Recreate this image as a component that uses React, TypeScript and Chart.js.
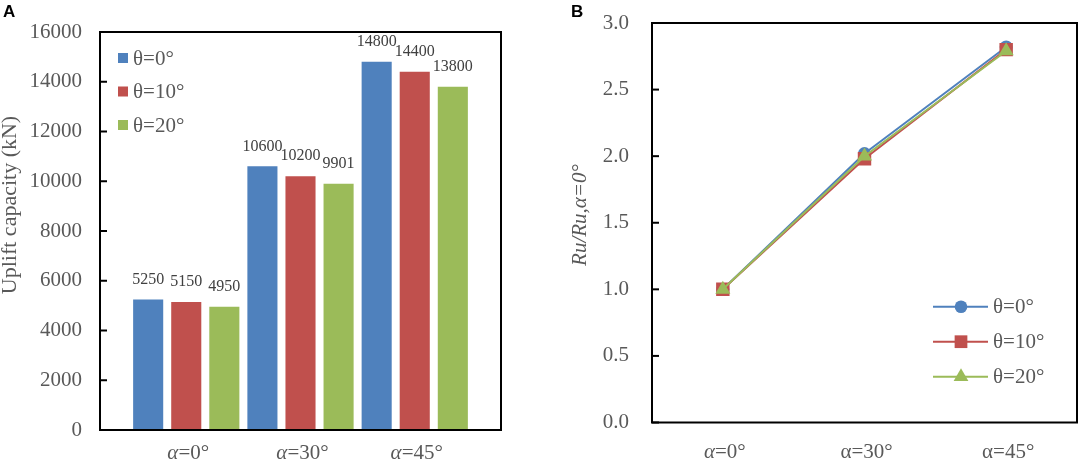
import { useEffect, useRef } from "react";
import { Chart, registerables } from "chart.js";

Chart.register(...registerables);

// data
const categories = ["α=0°", "α=30°", "α=45°"];
const seriesNames = ["θ=0°", "θ=10°", "θ=20°"];
const capacityTheta0 = [5250, 10600, 14800];
const capacityTheta10 = [5150, 10200, 14400];
const capacityTheta20 = [4950, 9901, 13800];
const ratioTheta0 = [1.0, 2.02, 2.82];
const ratioTheta10 = [1.0, 1.98, 2.8];
const ratioTheta20 = [1.0, 2.0, 2.79];
const capacityTicks = [0, 2000, 4000, 6000, 8000, 10000, 12000, 14000, 16000];
const ratioTicks = [0, 0.5, 1.0, 1.5, 2.0, 2.5, 3.0];

const colors = ["#4F81BD", "#C0504D", "#9BBB59"];
const textColor = "#595959";
const serif = '"Liberation Serif", "Times New Roman", serif';
const sans = '"Liberation Sans", Arial, sans-serif';

// frame round the plot area + short inward ticks on the value axis
const framePlugin = {
  id: "frame",
  afterDraw(chart: any) {
    const { ctx, chartArea: a } = chart;
    const y = chart.scales.y;
    ctx.save();
    ctx.strokeStyle = "#000";
    ctx.lineWidth = 2;
    ctx.strokeRect(a.left, a.top, a.right - a.left, a.bottom - a.top);
    y.ticks.forEach((t: any) => {
      const py = y.getPixelForValue(t.value);
      ctx.beginPath();
      ctx.moveTo(a.left, py);
      ctx.lineTo(a.left + 7, py);
      ctx.stroke();
    });
    ctx.restore();
  },
};

function drawCategoryLabels(chart: any, italicAlpha: boolean[], baseline: number) {
  const { ctx } = chart;
  const x = chart.scales.x;
  ctx.save();
  ctx.fillStyle = textColor;
  ctx.textBaseline = "alphabetic";
  ctx.textAlign = "left";
  categories.forEach((label, i) => {
    const cx = x.getPixelForValue(i);
    const head = label.slice(0, 1);
    const rest = label.slice(1);
    const headFont = `${italicAlpha[i] ? "italic " : ""}21px ${serif}`;
    const restFont = `21px ${serif}`;
    ctx.font = headFont;
    const w1 = ctx.measureText(head).width;
    ctx.font = restFont;
    const w2 = ctx.measureText(rest).width;
    const sx = cx - (w1 + w2) / 2 + 2;
    ctx.font = headFont;
    ctx.fillText(head, sx, baseline);
    ctx.font = restFont;
    ctx.fillText(rest, sx + w1, baseline);
  });
  ctx.restore();
}

function drawVerticalTitle(ctx: any, text: string, font: string, x: number, y: number) {
  ctx.save();
  ctx.translate(x, y);
  ctx.rotate(-Math.PI / 2);
  ctx.font = font;
  ctx.fillStyle = textColor;
  ctx.textAlign = "center";
  ctx.textBaseline = "alphabetic";
  ctx.fillText(text, 0, 0);
  ctx.restore();
}

function drawPanelLetter(ctx: any, letter: string, x: number) {
  ctx.save();
  ctx.font = `bold 17px ${sans}`;
  ctx.fillStyle = "#000";
  ctx.textAlign = "left";
  ctx.textBaseline = "alphabetic";
  ctx.fillText(letter, x, 17);
  ctx.restore();
}

function drawMarker(ctx: any, style: string, r: number, x: number, y: number) {
  ctx.beginPath();
  if (style === "circle") {
    ctx.arc(x, y, r, 0, Math.PI * 2);
  } else if (style === "rect") {
    const s = Math.SQRT1_2 * r;
    ctx.rect(x - s, y - s, 2 * s, 2 * s);
  } else {
    ctx.moveTo(x, y - r);
    ctx.lineTo(x + Math.sin(Math.PI * 2 / 3) * r, y + r / 2);
    ctx.lineTo(x - Math.sin(Math.PI * 2 / 3) * r, y + r / 2);
    ctx.closePath();
  }
  ctx.fill();
}

// keep the tick padding from pushing the plot area down
const noVerticalPad = (s: any, width: number) => {
  s.width = width;
  s.paddingTop = 0;
  s.paddingBottom = 0;
};

function BarPanel() {
  const canvasRef = useRef<HTMLCanvasElement>(null);

  useEffect(() => {
    const series = [capacityTheta0, capacityTheta10, capacityTheta20];

    const extras = {
      id: "barExtras",
      afterDatasetsDraw(chart: any) {
        const { ctx } = chart;
        ctx.save();
        ctx.font = `16px ${serif}`;
        ctx.fillStyle = "#404040";
        ctx.textAlign = "center";
        ctx.textBaseline = "middle";
        chart.data.datasets.forEach((ds: any, di: number) => {
          const meta = chart.getDatasetMeta(di);
          meta.data.forEach((bar: any, i: number) => {
            ctx.fillText(String(ds.data[i].y), bar.x, bar.y - 20);
          });
        });
        ctx.restore();
      },
      afterDraw(chart: any) {
        const { ctx } = chart;
        // legend inside the plot
        ctx.save();
        ctx.font = `21px ${serif}`;
        ctx.textAlign = "left";
        ctx.textBaseline = "middle";
        seriesNames.forEach((name, i) => {
          const cy = 58 + i * 33.5;
          ctx.fillStyle = colors[i];
          ctx.fillRect(118, cy - 5, 10, 10);
          ctx.fillStyle = textColor;
          ctx.fillText(name, 133, cy + 1);
        });
        ctx.restore();
        drawCategoryLabels(chart, [true, true, true], 459);
        drawVerticalTitle(ctx, "Uplift capacity (kN)", `22px ${serif}`, 16, 205);
        drawPanelLetter(ctx, "A", 3);
      },
    };

    const chart = new Chart(canvasRef.current!, {
      type: "bar",
      data: {
        datasets: series.map((values, si) => ({
          label: seriesNames[si],
          data: values.map((v, i) => ({ x: i, y: v })),
          backgroundColor: colors[si],
          borderWidth: 0,
          categoryPercentage: 1.0,
          barPercentage: 0.79,
        })),
      },
      options: {
        responsive: false,
        animation: false,
        events: [],
        layout: { padding: { top: 32, right: 39, left: 0, bottom: 0 } },
        plugins: { legend: { display: false }, tooltip: { enabled: false } },
        scales: {
          x: {
            type: "linear",
            min: -0.755,
            max: 2.755,
            offset: false,
            afterBuildTicks: (s: any) => {
              s.ticks = categories.map((_, i) => ({ value: i }));
            },
            afterFit: (s: any) => {
              s.height = 30;
              s.paddingLeft = 0;
              s.paddingRight = 0;
            },
            ticks: { display: false },
            grid: { display: false, drawTicks: false },
            border: { display: false },
          },
          y: {
            min: 0,
            max: 16000,
            afterBuildTicks: (s: any) => {
              s.ticks = capacityTicks.map((value) => ({ value }));
            },
            afterFit: (s: any) => noVerticalPad(s, 100),
            ticks: {
              padding: 18,
              color: textColor,
              font: { family: serif, size: 21 },
              callback: (v: any) => String(v),
            },
            grid: { display: false, drawTicks: false },
            border: { display: false },
          },
        },
      },
      plugins: [framePlugin, extras],
    });

    return () => chart.destroy();
  }, []);

  return <canvas ref={canvasRef} width={540} height={460} style={{ position: "absolute", left: 0, top: 0 }} />;
}

function LinePanel() {
  const canvasRef = useRef<HTMLCanvasElement>(null);

  useEffect(() => {
    const series = [ratioTheta0, ratioTheta10, ratioTheta20];
    const pointStyles = ["circle", "rect", "triangle"];
    const pointRadii = [6.5, 9.5, 8.7];
    const orders = [2, 1, 0];

    const extras = {
      id: "lineExtras",
      afterDraw(chart: any) {
        const { ctx } = chart;
        ctx.save();
        ctx.font = `21px ${serif}`;
        ctx.textAlign = "left";
        ctx.textBaseline = "middle";
        seriesNames.forEach((name, i) => {
          const cy = 306.7 + i * 35;
          ctx.strokeStyle = colors[i];
          ctx.fillStyle = colors[i];
          ctx.lineWidth = 2;
          ctx.beginPath();
          ctx.moveTo(393, cy);
          ctx.lineTo(448, cy);
          ctx.stroke();
          drawMarker(ctx, pointStyles[i], i === 1 ? 9 : i === 2 ? 8.5 : 6.3, 421, cy);
          ctx.fillStyle = textColor;
          ctx.fillText(name, 453, cy + 1);
        });
        ctx.restore();
        drawCategoryLabels(chart, [true, false, false], 458);
        drawVerticalTitle(ctx, "Ru/Ru,α=0°", `italic 21px ${serif}`, 46, 215);
        drawPanelLetter(ctx, "B", 31);
      },
    };

    const chart = new Chart(canvasRef.current!, {
      type: "line",
      data: {
        labels: categories,
        datasets: series.map((values, si) => ({
          label: seriesNames[si],
          data: values,
          borderColor: colors[si],
          backgroundColor: colors[si],
          borderWidth: 2,
          pointStyle: pointStyles[si],
          pointRadius: pointRadii[si],
          pointBorderWidth: 0,
          pointBackgroundColor: colors[si],
          order: orders[si],
          tension: 0,
        })),
      },
      options: {
        responsive: false,
        animation: false,
        events: [],
        layout: { padding: { top: 23, right: 2, left: 0, bottom: 0 }, autoPadding: false },
        plugins: { legend: { display: false }, tooltip: { enabled: false } },
        scales: {
          x: {
            type: "category",
            offset: true,
            afterFit: (s: any) => {
              s.height = 37.5;
              s.paddingLeft = 0;
              s.paddingRight = 0;
            },
            ticks: { display: false },
            grid: { display: false, drawTicks: false },
            border: { display: false },
          },
          y: {
            min: 0,
            max: 3,
            afterBuildTicks: (s: any) => {
              s.ticks = ratioTicks.map((value) => ({ value }));
            },
            afterFit: (s: any) => noVerticalPad(s, 112),
            ticks: {
              padding: 23,
              color: textColor,
              font: { family: serif, size: 21 },
              callback: (v: any) => Number(v).toFixed(1),
            },
            grid: { display: false, drawTicks: false },
            border: { display: false },
          },
        },
      },
      plugins: [framePlugin, extras],
    });

    return () => chart.destroy();
  }, []);

  return <canvas ref={canvasRef} width={539} height={460} style={{ position: "absolute", left: 540, top: 0 }} />;
}

export default function App() {
  return (
    <div style={{ position: "absolute", left: 0, top: 0, width: 1079, height: 460, background: "#fff" }}>
      <BarPanel />
      <LinePanel />
    </div>
  );
}
